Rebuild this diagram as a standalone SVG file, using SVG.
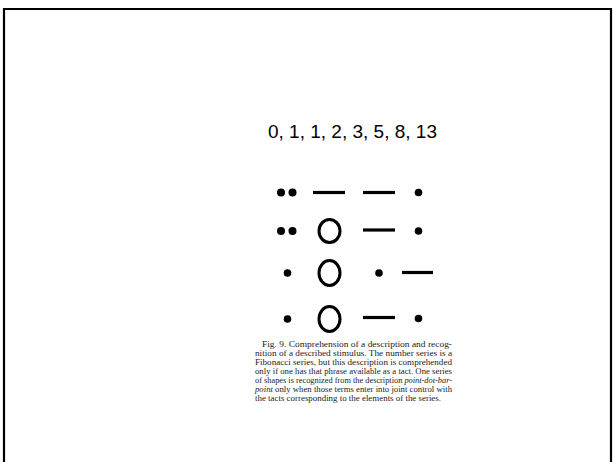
<svg xmlns="http://www.w3.org/2000/svg" width="613" height="462" viewBox="0 0 613 462">
<style>
.dot{fill:#000}
.bar{stroke:#000;stroke-width:3.2;fill:none}
.ring{stroke:#000;stroke-width:3;fill:none}
.cap{font-family:"Liberation Serif","Times New Roman",serif;font-size:8.6px;fill:#222}
.num{font-family:"Liberation Sans",Arial,sans-serif;font-size:19px;fill:#000}
</style>
<rect x="0" y="0" width="613" height="462" fill="#fff"/>
<path d="M4 470 V9 H611 V470" fill="none" stroke="#000" stroke-width="2.2"/>
<text class="num" x="268" y="138" textLength="169" lengthAdjust="spacing">0, 1, 1, 2, 3, 5, 8, 13</text>
<g id="row1">
<circle class="dot" cx="281" cy="192.5" r="4"/>
<circle class="dot" cx="292.5" cy="192.5" r="4"/>
<line class="bar" x1="313" y1="192.5" x2="345" y2="192.5"/>
<line class="bar" x1="363" y1="192.5" x2="395" y2="192.5"/>
<circle class="dot" cx="418.5" cy="192.5" r="3.8"/>
</g>
<g id="row2">
<circle class="dot" cx="281" cy="231" r="4"/>
<circle class="dot" cx="292.5" cy="231" r="4"/>
<ellipse class="ring" cx="329.5" cy="231" rx="10.5" ry="11.5"/>
<line class="bar" x1="363" y1="230" x2="395" y2="230"/>
<circle class="dot" cx="418.5" cy="231" r="3.8"/>
</g>
<g id="row3">
<circle class="dot" cx="287.5" cy="273" r="3.8"/>
<ellipse class="ring" cx="329.5" cy="273" rx="10.5" ry="12.5"/>
<circle class="dot" cx="379" cy="273" r="3.8"/>
<line class="bar" x1="402" y1="272.5" x2="433" y2="272.5"/>
</g>
<g id="row4">
<circle class="dot" cx="287.5" cy="319" r="3.8"/>
<ellipse class="ring" cx="329.5" cy="319" rx="10.5" ry="12.5"/>
<line class="bar" x1="363" y1="317.5" x2="395" y2="317.5"/>
<circle class="dot" cx="418.5" cy="318.5" r="3.8"/>
</g>
<g id="caption" class="cap">
<text x="262" y="347" textLength="190" lengthAdjust="spacingAndGlyphs">Fig. 9.  Comprehension of a description and recog-</text>
<text x="255" y="356" textLength="197" lengthAdjust="spacingAndGlyphs">nition of a described stimulus. The number series is a</text>
<text x="255" y="365" textLength="197" lengthAdjust="spacingAndGlyphs">Fibonacci series, but this description is comprehended</text>
<text x="255" y="374" textLength="197" lengthAdjust="spacingAndGlyphs">only if one has that phrase available as a tact. One series</text>
<text x="255" y="383" textLength="197" lengthAdjust="spacingAndGlyphs">of shapes is recognized from the description <tspan font-style="italic">point-dot-bar-</tspan></text>
<text x="255" y="392" textLength="197" lengthAdjust="spacingAndGlyphs"><tspan font-style="italic">point</tspan> only when those terms enter into joint control with</text>
<text x="255" y="401" textLength="186" lengthAdjust="spacingAndGlyphs">the tacts corresponding to the elements of the series.</text>
</g>
</svg>
